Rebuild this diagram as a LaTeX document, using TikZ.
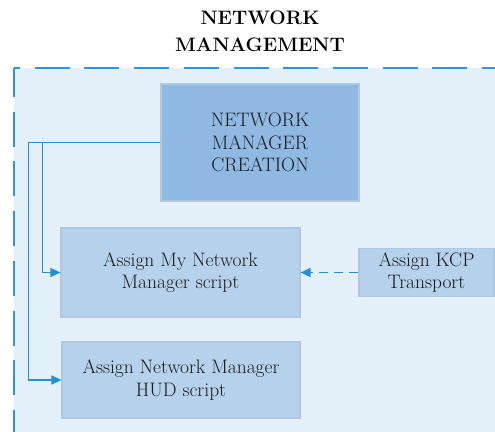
\documentclass[tikz,border=0pt]{standalone}
\usepackage{fontspec}
\usetikzlibrary{arrows.meta}
\definecolor{bgc}{HTML}{E3EFF9}
\definecolor{darkbox}{HTML}{8FB9E3}
\definecolor{lightbox}{HTML}{B5D1EC}
\definecolor{boxline}{HTML}{AFC8E0}
\definecolor{arrc}{HTML}{1F8FD8}
\definecolor{dashc}{HTML}{2E95D6}
\definecolor{txt}{HTML}{1A1A1A}
\tikzset{
  x=1pt, y=1pt,
  box/.style={draw=boxline, line width=1.2pt, align=center, text=txt, inner sep=0pt,
    font=\rmfamily\fontsize{19.5}{22.5}\selectfont},
  arr/.style={draw=arrc, line width=1.5pt, -{Triangle[length=10pt,width=9pt]}},
  dasharr/.style={arr, dash pattern=on 9pt off 6pt},
  border/.style={draw=dashc, line width=2.5pt, line cap=butt}
}
\begin{document}
\begin{tikzpicture}
\useasboundingbox (0,0) rectangle (495,-431);
\fill[bgc] (14,-68) rectangle (500,-436);
\draw[border, dash pattern=on 35pt off 14.7pt, dash phase=29pt] (14,-68) -- (500,-68);
\draw[border, dash pattern=on 35pt off 14.7pt, dash phase=6pt] (14,-68) -- (14,-436);
\node[align=center, text=black, font=\rmfamily\fontsize{19.5}{27}\selectfont\bfseries] (title) at (260,-31) {NETWORK\\MANAGEMENT};
\node[box, fill=darkbox, minimum width=198pt, minimum height=117pt] (nmc) at (260,-142.5) {NETWORK\\MANAGER\\CREATION};
\node[box, fill=lightbox, minimum width=239pt, minimum height=89pt] (my) at (180.5,-272.5) {Assign My Network\\Manager script};
\node[box, fill=lightbox, minimum width=135pt, minimum height=48pt] (kcp) at (426.5,-272.5) {Assign KCP\\Transport};
\node[box, fill=lightbox, minimum width=238pt, minimum height=76pt] (hud) at (181,-380) {Assign Network Manager\\HUD script};
\draw[arr] (nmc.west) -- ++(-118,0) |- (my.west);
\draw[arr] (nmc.west) -- ++(-132,0) |- (hud.west);
\draw[dasharr] (kcp.west) -- (my.east);
\end{tikzpicture}
\end{document}
